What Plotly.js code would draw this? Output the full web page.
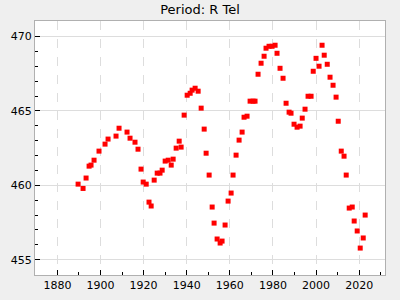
<!DOCTYPE html>
<html>
<head>
<meta charset="utf-8">
<script src="https://cdn.plot.ly/plotly-3.0.1.min.js"></script>
<style>html,body{margin:0;padding:0;background:#efefef;}</style>
</head>
<body>
<div id="chart" style="width:400px;height:300px;"></div>
<script>
const years = [1889.6,1891.9,1893.3,1894.7,1895.6,1897.0,1899.3,1902.1,1903.5,1907.2,1908.6,1912.3,1913.7,1916.0,1917.4,1918.8,1919.8,1921.2,1922.5,1923.5,1924.9,1926.3,1927.6,1928.6,1930.0,1931.4,1932.8,1933.7,1935.1,1936.5,1937.4,1938.8,1940.2,1941.6,1942.5,1943.9,1945.3,1946.7,1948.1,1949.0,1950.4,1951.8,1952.7,1954.1,1955.5,1956.4,1957.8,1959.2,1960.6,1961.5,1962.9,1964.3,1965.7,1966.6,1968.0,1969.4,1970.8,1971.7,1973.1,1974.5,1975.9,1976.8,1978.2,1979.6,1981.0,1981.9,1983.3,1984.7,1986.1,1987.5,1988.4,1989.8,1991.2,1992.6,1993.6,1994.9,1996.3,1997.7,1998.7,2000.0,2001.4,2002.8,2003.8,2005.2,2006.5,2007.9,2009.3,2010.3,2011.7,2013.0,2014.0,2015.4,2016.8,2017.7,2019.1,2020.5,2021.9,2022.8];
const periods = [460.08,459.79,460.49,461.29,461.36,461.69,462.30,462.77,463.11,463.31,463.84,463.58,463.17,462.90,462.43,461.09,460.22,460.08,458.87,458.61,460.35,460.82,460.82,461.02,461.63,461.69,461.36,461.76,462.50,462.97,462.57,464.72,466.06,466.19,466.40,466.53,466.33,465.19,463.78,462.16,460.69,458.54,457.46,456.39,456.12,456.25,457.33,458.94,459.48,460.69,462.03,463.04,463.58,464.58,464.65,465.66,465.66,465.66,467.47,468.21,468.68,469.22,469.35,469.35,469.42,468.88,467.87,467.20,465.52,464.92,464.85,464.11,463.91,463.98,464.52,465.12,465.99,465.99,467.67,468.54,468.01,469.42,468.75,468.14,467.27,466.73,465.93,464.31,462.30,461.96,460.69,458.47,458.54,457.60,456.93,455.78,456.46,458.00];
const xTicks = [1880,1900,1920,1940,1960,1980,2000,2020];
const yTicks = [455,460,465,470];

const trace = {
  x: years, y: periods, type: 'scatter', mode: 'markers',
  marker: {symbol: 'square', size: 5, color: '#ff0000', line: {width: 0}},
  hoverinfo: 'none'
};
const fontFam = 'DejaVu Sans, sans-serif';
const layout = {
  width: 400, height: 300,
  paper_bgcolor: '#efefef', plot_bgcolor: '#ffffff',
  margin: {l: 35, r: 15, t: 21, b: 25},
  showlegend: false,
  title: {text: 'Period: R Tel', x: 0.5, xanchor: 'center', y: 0.985, yanchor: 'top',
          font: {family: fontFam, size: 13, color: '#000'}},
  xaxis: {
    range: [1869.6, 2032], tickmode: 'array', tickvals: xTicks, ticktext: xTicks.map(String),
    ticks: 'inside', ticklen: 5, tickcolor: '#000', tickwidth: 1,
    showline: true, linecolor: '#b0b0b0', linewidth: 1, mirror: true,
    showgrid: true, gridcolor: '#dddddd', griddash: 'dash', gridwidth: 1,
    zeroline: false, tickfont: {family: fontFam, size: 11, color: '#000'},
    minor: {dtick: 10, tick0: 1870, ticks: 'inside', ticklen: 3, tickcolor: '#000', showgrid: false}
  },
  yaxis: {
    range: [453.97, 471.05], tickmode: 'array', tickvals: yTicks, ticktext: yTicks.map(String),
    ticks: 'inside', ticklen: 5, tickcolor: '#000', tickwidth: 1,
    showline: true, linecolor: '#b0b0b0', linewidth: 1, mirror: true,
    showgrid: true, gridcolor: '#dddddd', gridwidth: 1,
    zeroline: false, tickfont: {family: fontFam, size: 11, color: '#000'},
    minor: {dtick: 1, tick0: 454, ticks: 'inside', ticklen: 3, tickcolor: '#000', showgrid: false}
  }
};
Plotly.newPlot('chart', [trace], layout, {staticPlot: true, displayModeBar: false});
</script>
</body>
</html>
